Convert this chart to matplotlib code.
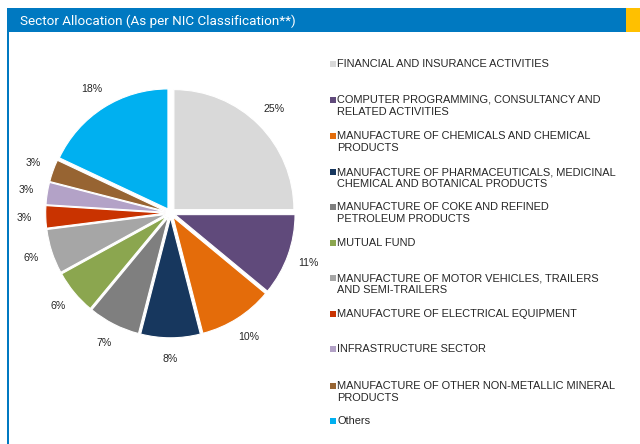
import matplotlib
matplotlib.use("Agg")
import matplotlib.pyplot as plt
from matplotlib.patches import Rectangle

categories = [
    "FINANCIAL AND INSURANCE ACTIVITIES",
    "COMPUTER PROGRAMMING, CONSULTANCY AND\nRELATED ACTIVITIES",
    "MANUFACTURE OF CHEMICALS AND CHEMICAL\nPRODUCTS",
    "MANUFACTURE OF PHARMACEUTICALS, MEDICINAL\nCHEMICAL AND BOTANICAL PRODUCTS",
    "MANUFACTURE OF COKE AND REFINED\nPETROLEUM PRODUCTS",
    "MUTUAL FUND",
    "MANUFACTURE OF MOTOR VEHICLES, TRAILERS\nAND SEMI-TRAILERS",
    "MANUFACTURE OF ELECTRICAL EQUIPMENT",
    "INFRASTRUCTURE SECTOR",
    "MANUFACTURE OF OTHER NON-METALLIC MINERAL\nPRODUCTS",
    "Others",
]
values = [25, 11, 10, 8, 7, 6, 6, 3, 3, 3, 18]
colors = ["#D9D9D9", "#604A7B", "#E46C0A", "#17375E", "#7F7F7F", "#8BA64F",
          "#A6A6A6", "#C93300", "#B3A2C7", "#976432", "#00B0F0"]
title = "Sector Allocation (As per NIC Classification**)"

W, H = 640, 444
fig = plt.figure(figsize=(W / 100, H / 100), dpi=100)
fig.patch.set_facecolor("white")

def px(x, y):
    return x / W, 1 - y / H

# header bar
fig.patches.append(Rectangle(px(7, 32), 619 / W, 24 / H, transform=fig.transFigure,
                             facecolor="#0079C1", edgecolor="none"))
fig.patches.append(Rectangle(px(626, 32), 14 / W, 24 / H, transform=fig.transFigure,
                             facecolor="#FFC000", edgecolor="none"))
fig.patches.append(Rectangle(px(7, 444), 2 / W, 412 / H, transform=fig.transFigure,
                             facecolor="#0079C1", edgecolor="none"))
x0, y0 = px(20, 21)
fig.text(x0, y0, title, color="white", fontsize=9.7, family="Roboto",
         va="center", ha="left")

# pie
R = 120
cx, cy = 170.5, 213
half = 1.45
size = 2 * half * R
ax = fig.add_axes([(cx - size / 2) / W, (H - cy - size / 2) / H, size / W, size / H])
wedges, texts, autotexts = ax.pie(
    values, colors=colors, startangle=90, counterclock=False,
    explode=[0.04] * len(values), radius=1,
    autopct=lambda p: f"{p:.0f}%", pctdistance=1.18,
    wedgeprops=dict(edgecolor="white", linewidth=0.8),
    textprops=dict(fontsize=7.6, family="Liberation Sans", color="#262626"),
)
ax.set_xlim(-half, half)
ax.set_ylim(-half, half)
ax.set_aspect("equal")
ax.axis("off")
ax.patch.set_alpha(0)
for t in autotexts:
    t.set_clip_on(False)

# legend
ys = [64, 100, 136, 172, 207, 243, 278, 314, 349, 386, 421]
for lab, c, y in zip(categories, colors, ys):
    fig.patches.append(Rectangle(px(330, y + 3), 6 / W, 6 / H, transform=fig.transFigure,
                                 facecolor=c, edgecolor="none"))
    tx, ty = px(337, y - 5)
    fig.text(tx, ty, lab, fontsize=7.9, family="Liberation Sans", color="#262626",
             va="top", ha="left", linespacing=1.25)

fig.savefig("out.png", dpi=100, facecolor="white")
